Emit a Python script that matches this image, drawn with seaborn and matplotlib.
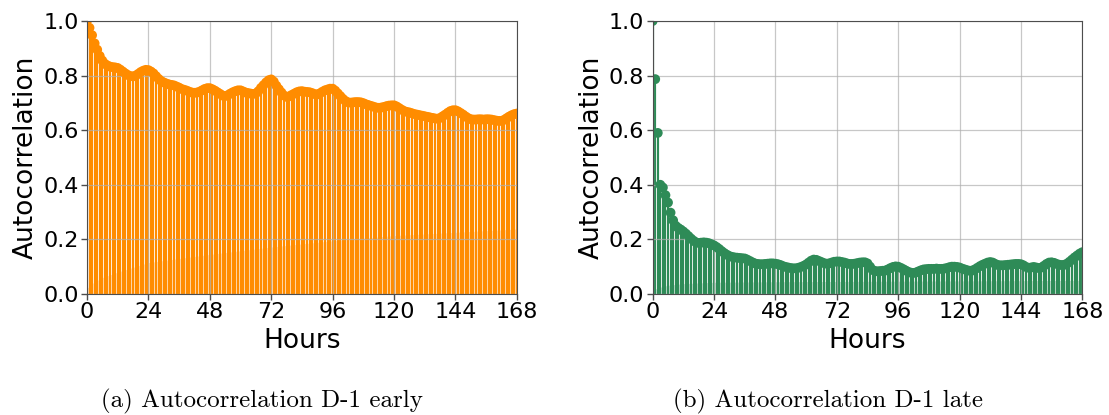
import numpy as np
import pandas as pd
import matplotlib
matplotlib.use("Agg")
import matplotlib.pyplot as plt
import seaborn as sns

# ---------------- data ----------------
lags = list(range(0, 169))

acf_early = [
    1.000, 0.975, 0.948, 0.918, 0.895, 0.872, 0.855, 0.843, 0.837, 0.833,
    0.831, 0.830, 0.828, 0.822, 0.815, 0.808, 0.802, 0.798, 0.797, 0.800,
    0.806, 0.813, 0.818, 0.821, 0.820, 0.815, 0.808, 0.798, 0.788, 0.780,
    0.775, 0.771, 0.768, 0.766, 0.764, 0.760, 0.756, 0.751, 0.748, 0.745,
    0.741, 0.738, 0.737, 0.738, 0.741, 0.746, 0.751, 0.754, 0.754, 0.750,
    0.745, 0.739, 0.733, 0.727, 0.725, 0.728, 0.734, 0.739, 0.743, 0.746,
    0.746, 0.742, 0.738, 0.736, 0.734, 0.733, 0.735, 0.743, 0.755, 0.765,
    0.775, 0.783, 0.786, 0.778, 0.763, 0.750, 0.738, 0.727, 0.722, 0.724,
    0.729, 0.734, 0.739, 0.742, 0.743, 0.741, 0.740, 0.739, 0.736, 0.732,
    0.731, 0.735, 0.741, 0.746, 0.749, 0.752, 0.752, 0.745, 0.735, 0.725,
    0.715, 0.707, 0.702, 0.701, 0.702, 0.703, 0.703, 0.702, 0.699, 0.695,
    0.692, 0.689, 0.686, 0.683, 0.682, 0.683, 0.685, 0.688, 0.690, 0.691,
    0.691, 0.687, 0.681, 0.675, 0.670, 0.667, 0.665, 0.662, 0.659, 0.657,
    0.655, 0.653, 0.651, 0.649, 0.647, 0.645, 0.643, 0.642, 0.645, 0.651,
    0.657, 0.664, 0.670, 0.673, 0.673, 0.669, 0.663, 0.657, 0.650, 0.644,
    0.640, 0.639, 0.639, 0.640, 0.640, 0.639, 0.640, 0.640, 0.639, 0.637,
    0.635, 0.634, 0.634, 0.638, 0.644, 0.650, 0.655, 0.659, 0.661,
]

acf_late = [
    1.000, 0.787, 0.590, 0.400, 0.390, 0.362, 0.335, 0.298, 0.270, 0.250,
    0.242, 0.236, 0.229, 0.221, 0.212, 0.203, 0.195, 0.189, 0.187, 0.188,
    0.189, 0.188, 0.186, 0.182, 0.178, 0.172, 0.165, 0.157, 0.150, 0.144,
    0.139, 0.136, 0.134, 0.133, 0.132, 0.131, 0.130, 0.126, 0.121, 0.116,
    0.112, 0.110, 0.109, 0.109, 0.110, 0.111, 0.112, 0.112, 0.111, 0.109,
    0.106, 0.102, 0.099, 0.097, 0.095, 0.094, 0.094, 0.096, 0.099, 0.103,
    0.108, 0.115, 0.122, 0.126, 0.125, 0.121, 0.117, 0.113, 0.111, 0.112,
    0.115, 0.118, 0.119, 0.119, 0.117, 0.115, 0.112, 0.110, 0.110, 0.111,
    0.113, 0.115, 0.116, 0.116, 0.112, 0.100, 0.088, 0.084, 0.083, 0.084,
    0.085, 0.086, 0.090, 0.095, 0.099, 0.101, 0.100, 0.096, 0.091, 0.086,
    0.081, 0.078, 0.077, 0.079, 0.083, 0.087, 0.090, 0.091, 0.092, 0.092,
    0.092, 0.093, 0.092, 0.092, 0.093, 0.095, 0.098, 0.100, 0.100, 0.099,
    0.097, 0.093, 0.090, 0.087, 0.085, 0.086, 0.090, 0.096, 0.102, 0.107,
    0.111, 0.115, 0.117, 0.115, 0.110, 0.106, 0.105, 0.105, 0.106, 0.107,
    0.108, 0.109, 0.110, 0.110, 0.109, 0.105, 0.099, 0.096, 0.097, 0.099,
    0.097, 0.095, 0.097, 0.103, 0.110, 0.115, 0.116, 0.114, 0.110, 0.107,
    0.106, 0.107, 0.111, 0.118, 0.126, 0.134, 0.141, 0.148, 0.153,
]

# confidence band upper edge (read at a few lags)
band_early_lags = [0, 1, 3, 6, 12, 24, 48, 72, 96, 120, 144, 168]
band_early_vals = [0.020, 0.030, 0.045, 0.060, 0.080, 0.115, 0.145, 0.172, 0.195, 0.214, 0.226, 0.238]
band_late_lags = [0, 1, 3, 6, 12, 24, 48, 96, 168]
band_late_vals = [0.010, 0.018, 0.025, 0.032, 0.038, 0.043, 0.045, 0.047, 0.050]

xticks = [0, 24, 48, 72, 96, 120, 144, 168]
yticks = [0.0, 0.2, 0.4, 0.6, 0.8, 1.0]
captions = ["(a) Autocorrelation D-1 early", "(b) Autocorrelation D-1 late"]
colors = ["#ff8c00", "#2e8b57"]

assert len(acf_early) == len(lags) and len(acf_late) == len(lags)

# ---------------- style ----------------
sns.set_style("whitegrid", {
    "axes.edgecolor": "0.3",
    "grid.color": "#b0b0b0",
    "xtick.bottom": True,
    "ytick.left": True,
    "axes.linewidth": 1.0,
    "text.color": "black",
    "axes.labelcolor": "black",
    "xtick.color": "black",
    "ytick.color": "black",
})
plt.rcParams["font.family"] = ["DejaVu Sans"]

fig = plt.figure(figsize=(11.09, 4.15), dpi=100)
ax_pos = [[0.0784, 0.2916, 0.3877, 0.6578], [0.5885, 0.2916, 0.3874, 0.6578]]
caption_x = [0.236, 0.7466]

datasets = [
    (acf_early, band_early_lags, band_early_vals),
    (acf_late, band_late_lags, band_late_vals),
]

for i, (vals, blags, bvals) in enumerate(datasets):
    ax = fig.add_axes(ax_pos[i])
    df = pd.DataFrame({"lag": lags, "acf": vals})
    c = colors[i]
    ax.fill_between(blags, 0, bvals, color=c, alpha=0.25, linewidth=0, zorder=1)
    ax.vlines(df["lag"], 0, df["acf"], color=c, linewidth=1.55, zorder=2)
    sns.scatterplot(data=df, x="lag", y="acf", ax=ax, color=c, s=50,
                    edgecolor="none", linewidth=0, zorder=3, clip_on=True)
    ax.set_xlim(0, 168)
    ax.set_ylim(0, 1.0)
    ax.set_xticks(xticks)
    ax.set_yticks(yticks)
    ax.set_yticklabels([f"{t:.1f}" for t in yticks])
    ax.tick_params(axis="both", labelsize=16, length=4, width=1.0, color="0.3",
                   labelcolor="black", pad=2)
    ax.set_xlabel("Hours", fontsize=19, labelpad=4, color="black")
    ax.set_ylabel("Autocorrelation", fontsize=19, labelpad=3, color="black")
    ax.grid(True, color="#b0b0b0", linewidth=0.9, alpha=0.7)
    ax.set_axisbelow(False)
    for sp in ax.spines.values():
        sp.set_visible(True)
        sp.set_color("0.3")
        sp.set_zorder(5)
    fig.text(caption_x[i], 0.003, captions[i], ha="center", va="bottom",
             family=["cmr10", "DejaVu Serif"], fontsize=18, color="black")

fig.savefig("out.png", dpi=100)
